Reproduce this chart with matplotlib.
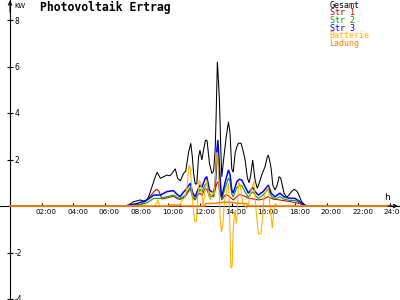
import matplotlib
matplotlib.use("Agg")
import matplotlib.pyplot as plt
import matplotlib.transforms as mtransforms

plt.rcParams['axes.unicode_minus'] = False

# ---------------- data (hours, kW) ----------------
gesamt_t = [0, 7.3, 7.5, 7.8, 8.0, 8.24, 8.55, 8.76, 8.97, 9.18, 9.3, 9.5, 9.7, 9.92, 10.1, 10.23,
            10.44, 10.59, 10.76, 10.96, 11.1, 11.28, 11.42, 11.52, 11.6, 11.7, 11.8, 11.91, 12.0,
            12.12, 12.25, 12.35, 12.45, 12.6, 12.75, 12.86, 12.96, 13.02, 13.1, 13.16, 13.23, 13.32,
            13.38, 13.49, 13.66, 13.8, 13.9, 14.01, 14.1, 14.22, 14.33, 14.43, 14.6, 14.75, 14.85,
            15.0, 15.1, 15.2, 15.33, 15.48, 15.62, 15.75, 15.9, 16.11, 16.25, 16.32, 16.42, 16.5,
            16.6, 16.74, 16.88, 17.0, 17.1, 17.2, 17.31, 17.48, 17.65, 17.79, 17.95, 18.1, 18.2,
            18.42, 18.63, 18.85, 24]
gesamt_v = [0, 0, 0.05, 0.18, 0.22, 0.26, 0.18, 0.4, 0.83, 1.26, 1.45, 1.19, 1.26, 1.33, 1.3, 1.4,
            1.6, 1.19, 1.08, 1.4, 1.5, 2.3, 2.7, 2.1, 1.4, 0.95, 0.95, 2.1, 2.4,
            1.98, 2.5, 2.84, 2.8, 1.83, 1.4, 1.5, 2.4, 3.84, 6.2, 5.5, 4.56, 2.4,
            1.26, 1.98, 2.98, 3.62, 3.13, 1.6, 1.45, 2.27, 2.55, 2.7, 2.7, 2.3, 1.98,
            1.2, 1.0, 1.3, 1.98, 1.12, 0.76, 1.0, 1.33, 1.69, 2.1, 2.19, 1.9, 1.6,
            0.9, 0.69, 0.9, 1.26, 1.2, 0.9, 0.55, 0.37, 0.5, 0.62, 0.72, 0.65, 0.55,
            0.19, 0.04, 0, 0]

str1_t = [0, 7.4, 7.8, 8.3, 8.66, 8.95, 9.24, 9.4, 9.6, 9.92, 10.33, 10.55, 10.75, 11.07, 11.39,
          11.55, 11.7, 11.9, 12.0, 12.12, 12.33, 12.45, 12.6, 12.86, 13.07, 13.15, 13.25, 13.38,
          13.6, 13.8, 14.1, 14.45, 14.64, 14.9, 15.06, 15.4, 15.69, 16.0, 16.32, 16.6, 17.05, 17.4,
          17.68, 18.0, 18.31, 18.6, 18.8, 24]
str1_v = [0, 0, 0.03, 0.08, 0.26, 0.5, 0.72, 0.65, 0.3, 0.35, 0.42, 0.32, 0.28, 0.4, 0.75,
          0.35, 0.26, 0.5, 0.55, 0.45, 0.76, 0.7, 0.4, 0.45, 0.98, 1.05, 0.6, 0.26,
          0.48, 0.45, 0.26, 0.48, 0.47, 0.4, 0.33, 0.3, 0.26, 0.3, 0.4, 0.3, 0.26, 0.22,
          0.19, 0.15, 0.1, 0.02, 0, 0]

str2_t = [0, 7.5, 7.8, 8.3, 8.66, 9.08, 9.5, 9.92, 10.33, 10.55, 10.75, 11.07, 11.39, 11.55, 11.7,
          11.9, 12.0, 12.12, 12.33, 12.43, 12.6, 12.86, 12.96, 13.07, 13.13, 13.23, 13.32, 13.38,
          13.6, 13.8, 13.9, 14.01, 14.1, 14.33, 14.5, 14.64, 14.85, 15.06, 15.33, 15.48, 15.69,
          15.99, 16.32, 16.5, 16.74, 17.05, 17.3, 17.68, 18.0, 18.31, 18.6, 18.9, 24]
str2_v = [0, 0, 0.03, 0.07, 0.14, 0.33, 0.33, 0.4, 0.47, 0.38, 0.3, 0.47, 0.8, 0.42, 0.28,
          0.56, 0.72, 0.6, 0.92, 0.98, 0.52, 0.38, 0.7, 1.85, 2.2, 1.35, 0.52, 0.28,
          0.8, 1.2, 1.08, 0.52, 0.38, 0.8, 0.9, 0.88, 0.6, 0.38, 0.62, 0.47, 0.33,
          0.47, 0.74, 0.43, 0.3, 0.4, 0.3, 0.24, 0.24, 0.12, 0.04, 0, 0]

str3_t = [0, 7.3, 7.6, 8.0, 8.66, 9.08, 9.5, 9.92, 10.33, 10.55, 10.75, 10.96, 11.1, 11.39, 11.55,
          11.7, 11.9, 12.0, 12.12, 12.33, 12.43, 12.6, 12.86, 12.96, 13.07, 13.13, 13.23, 13.32,
          13.38, 13.6, 13.8, 13.9, 14.01, 14.1, 14.33, 14.5, 14.64, 14.85, 15.06, 15.33, 15.48,
          15.69, 15.99, 16.32, 16.5, 16.74, 17.05, 17.3, 17.68, 18.0, 18.31, 18.5, 18.75, 24]
str3_v = [0, 0, 0.05, 0.1, 0.26, 0.47, 0.47, 0.62, 0.66, 0.5, 0.4, 0.6, 0.69, 0.98, 0.55,
          0.4, 0.76, 0.9, 0.8, 1.19, 1.26, 0.69, 0.55, 0.9, 2.4, 2.84, 1.7, 0.69,
          0.4, 1.05, 1.55, 1.35, 0.69, 0.55, 1.05, 1.15, 1.12, 0.83, 0.55, 0.8, 0.62,
          0.47, 0.62, 0.9, 0.55, 0.4, 0.55, 0.4, 0.33, 0.33, 0.19, 0.06, 0, 0]

batt_t = [0, 9.1, 9.25, 9.35, 9.45, 10.7, 10.85, 11.07, 11.2, 11.3, 11.4, 11.5, 11.6, 11.68, 11.78,
          11.85, 11.95, 12.05, 12.2, 12.3, 12.43, 12.55, 12.65, 12.8, 12.9, 13.0, 13.07, 13.12,
          13.2, 13.28, 13.36, 13.44, 13.55, 13.7, 13.8, 13.88, 13.95, 14.03, 14.1, 14.2, 14.3,
          14.37, 14.43, 14.55, 14.7, 14.8, 14.95, 15.05, 15.2, 15.3, 15.4, 15.5, 15.6, 15.7,
          15.85, 15.95, 16.05, 16.15, 16.3, 16.4, 16.5, 16.57, 16.65, 16.75, 16.9, 24]
batt_v = [0, 0, 0.1, 0.26, 0, 0, 0.2, 0.4, 0.9, 1.76, 1.6, 0.5, -0.3, -0.67, -0.67,
          0.3, 1.1, 1.0, 0.0, 0.6, 1.12, 0.5, 0.26, 0.6, 0.5, 1.5, 2.3, 2.2,
          0.9, -0.5, -1.13, -0.8, 0.2, 0.69, 0.98, -0.5, -2.67, -2.6, -1.0, -0.2, -0.75,
          -0.3, 1.05, 0.9, 0.1, 0.05, -0.1, 0.0, 0.6, 0.83, 1.05, 0.2, -0.6, -1.2,
          -1.2, -0.5, 0.4, 0.6, 0.83, 0.2, -0.5, -0.96, -0.3, 0.1, 0.0, 0]

ladung_t = [0, 10.0, 10.05, 10.8, 10.85, 12.3, 12.35, 13.0, 13.5, 14.0, 14.3, 14.95, 15.0, 24]
ladung_v = [0, 0, 0.04, 0.04, 0, 0, 0.1, 0.12, 0.16, 0.16, 0.12, 0.1, 0, 0]

series_names = ["Gesamt", "Str 1", "Str 2", "Str 3", "Batterie", "Ladung"]
series_colors = ["#000000", "#c00000", "#00a800", "#0000ff", "#ffb000", "#ff8000"]
series_widths = [0.75, 0.75, 0.8, 1.1, 0.75, 1.1]

xtick_pos = [2, 4, 6, 8, 10, 12, 14, 16, 18, 20, 22, 24]
xtick_labels = ["02:00", "04:00", "06:00", "08:00", "10:00", "12:00",
                "14:00", "16:00", "18:00", "20:00", "22:00", "24:00"]
ytick_pos = [-4, -2, 2, 4, 6, 8]
ytick_labels = ["-4", "-2", "2", "4", "6", "8"]

# ---------------- figure ----------------
W, H = 400, 300
fig = plt.figure(figsize=(4, 3), dpi=100)
fig.patch.set_facecolor("white")
ax = fig.add_axes([0, 0, 1, 1])
ax.set_facecolor("white")

px_per_h = 15.83
px_per_kw = 23.25
x0_px, y0_px = 10, 206
ax.set_xlim(-x0_px / px_per_h, (W - x0_px) / px_per_h)
ax.set_ylim(-(H - y0_px) / px_per_kw, y0_px / px_per_kw)

data = [(gesamt_t, gesamt_v), (str1_t, str1_v), (str2_t, str2_v),
        (str3_t, str3_v), (batt_t, batt_v), (ladung_t, ladung_v)]
for (t, v), c, lw in zip(data, series_colors, series_widths):
    ax.plot(t, v, color=c, lw=lw, antialiased=True, solid_joinstyle='miter', zorder=3)

# axes spines
ax.spines['top'].set_visible(False)
ax.spines['left'].set_visible(False)
ax.spines['right'].set_position(('data', 0))
ax.spines['bottom'].set_position(('data', 0))
for s in ('right', 'bottom'):
    ax.spines[s].set_linewidth(0.8)
    ax.spines[s].set_color('black')
    ax.spines[s].set_zorder(1)

ax.yaxis.set_ticks_position('right')
ax.set_yticks(ytick_pos)
ax.set_yticklabels(ytick_labels)
ax.tick_params(axis='y', direction='inout', length=4.3, width=0.8, pad=1.4,
               labelsize=5.5, colors='black')

ax.set_xticks(xtick_pos)
ax.set_xticklabels(xtick_labels)
ax.tick_params(axis='x', direction='in', length=2.4, width=0.8, pad=2.0,
               labelsize=5.2, colors='black')
offset = mtransforms.ScaledTranslation(4.5 / 100, 0, fig.dpi_scale_trans)
for lbl in ax.get_xticklabels():
    lbl.set_transform(lbl.get_transform() + offset)

# arrows
ax.annotate('', xy=(1 - 2 / W, 0), xycoords=('axes fraction', 'data'),
            xytext=(1 - 12 / W, 0), textcoords=('axes fraction', 'data'),
            arrowprops=dict(arrowstyle='->', lw=0.8, color='black',
                            shrinkA=0, shrinkB=0, mutation_scale=6))
ax.annotate('', xy=(0, 1 - 0.5 / H), xycoords=('data', 'axes fraction'),
            xytext=(0, 1 - 12 / H), textcoords=('data', 'axes fraction'),
            arrowprops=dict(arrowstyle='->', lw=0.8, color='black',
                            shrinkA=0, shrinkB=0, mutation_scale=6))

def fx(px):
    return px / W

def fy(py):
    return 1 - py / H

fig.text(fx(14), fy(5.5), "KW", ha='left', va='center', fontsize=5, family='DejaVu Sans')
fig.text(fx(387), fy(197), "h", ha='center', va='center', fontsize=6.5, family='DejaVu Sans')
fig.text(fx(39.5), fy(7), "Photovoltaik Ertrag", ha='left', va='center',
         fontsize=8.3, fontweight='bold', family='DejaVu Sans Mono')

legend_y = [5, 12.7, 20.4, 28.1, 35.8, 43.5]
for name, c, yy in zip(series_names, series_colors, legend_y):
    fig.text(fx(329.5), fy(yy), name, ha='left', va='center', fontsize=6,
             family='DejaVu Sans Mono', color=c)

fig.savefig("out.png", dpi=100, facecolor="white")
